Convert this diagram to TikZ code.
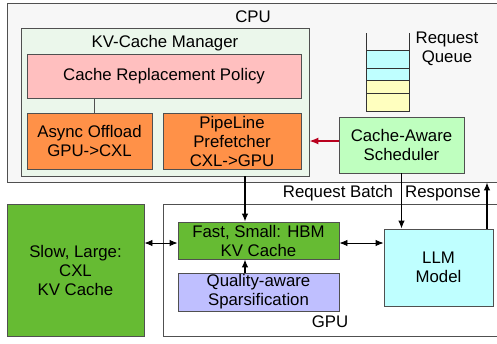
\documentclass[tikz,border=0pt]{standalone}
\usepackage{fontspec}
\setmainfont{Liberation Sans}
\usetikzlibrary{arrows.meta,calc}
\definecolor{cpufill}{RGB}{247,247,247}
\definecolor{kvfill}{RGB}{235,247,235}
\definecolor{pinkfill}{RGB}{255,191,191}
\definecolor{orangefill}{RGB}{255,145,72}
\definecolor{schedfill}{RGB}{191,255,191}
\definecolor{cyanfill}{RGB}{191,255,255}
\definecolor{yellowfill}{RGB}{255,255,191}
\definecolor{greenfill}{RGB}{102,187,51}
\definecolor{lavfill}{RGB}{191,191,255}
\definecolor{redarr}{RGB}{185,0,30}
\definecolor{edge}{RGB}{80,80,80}
\begin{document}
\begin{tikzpicture}[x=1pt,y=-1pt,
  every node/.style={font=\fontsize{16.8}{19}\selectfont},
  box/.style={draw=edge,line width=0.9pt,rectangle,inner sep=0pt,align=center},
  lbl/.style={inner sep=0pt,align=center},
  arr/.style={line width=1.1pt,-{Latex[length=8pt,width=6.5pt]}},
  darr/.style={line width=0.9pt,{Latex[length=8pt,width=6.5pt]}-{Latex[length=8pt,width=6.5pt]}},
  redarrow/.style={draw=redarr,line width=1.3pt,-{Latex[length=9pt,width=7pt]}}]
\useasboundingbox (0,0) rectangle (497,343);
\clip (0,0) rectangle (497,343);
% CPU
\node[box,fill=cpufill,minimum width=493pt,minimum height=179pt] (cpu) at (253.5,92.5) {};
\node[lbl] (cpulbl) at (253,17) {CPU};
% KV-Cache Manager
\node[box,fill=kvfill,minimum width=288pt,minimum height=148pt] (kvm) at (165,102) {};
\node[lbl] (kvmlbl) at (165,43) {KV-Cache Manager};
\node[box,fill=pinkfill,minimum width=274pt,minimum height=44pt] (policy) at (164,76) {Cache Replacement Policy};
\node[box,fill=orangefill,minimum width=125pt,minimum height=56pt] (async) at (89.5,141) {Async Offload\\GPU->CXL};
\node[box,fill=orangefill,minimum width=138pt,minimum height=56pt] (prefetch) at (232,141) {PipeLine\\Prefetcher\\CXL->GPU};
\draw[edge,line width=0.9pt] ([xshift=4.5pt]async.north) -- ([xshift=4.5pt]async.north |- policy.south);
% Request queue
\fill[cyanfill] (366,50) rectangle (409,80);
\fill[yellowfill] (366,80) rectangle (409,111);
\draw[black!80,line width=0.9pt] (366,33) -- (366,111) -- (409,111) -- (409,33);
\draw[black!80,line width=0.9pt] (366,50) -- (409,50) (366,68) -- (409,68) (366,80) -- (409,80) (366,93) -- (409,93);
\node[lbl] (queuelbl) at (447,49) {Request\\Queue};
% Scheduler
\node[box,fill=schedfill,minimum width=125pt,minimum height=56pt] (sched) at (401.5,145) {Cache-Aware\\Scheduler};
\draw[redarrow] ([yshift=4pt]sched.west) -- ([yshift=4pt]sched.west -| kvm.east);
% GPU
\node[box,fill=white,minimum width=337pt,minimum height=132pt] (gpu) at (331.5,270) {};
\node[lbl] (gpulbl) at (330,322) {GPU};
\node[box,fill=greenfill,minimum width=137pt,minimum height=132pt] (cxl) at (75.5,270) {Slow, Large:\\CXL\\KV Cache};
\node[box,fill=greenfill,minimum width=161pt,minimum height=37pt] (hbm) at (258.5,240.5) {Fast, Small: HBM\\KV Cache};
\node[box,fill=lavfill,minimum width=161pt,minimum height=38pt] (qual) at (258.5,292) {Quality-aware\\Sparsification};
\node[box,fill=cyanfill,minimum width=109pt,minimum height=77pt] (llm) at (438.5,267.5) {LLM\\Model};
% labels between
\node[lbl] (batchlbl) at (338,193) {Request Batch};
\node[lbl] (resplbl) at (443,193) {Response};
% connectors
\draw[arr] ([xshift=-13.5pt]hbm.north |- kvm.south) -- ([xshift=-13.5pt]hbm.north);
\draw[arr] ([xshift=-13.5pt]qual.north) -- ([xshift=-13.5pt]hbm.south);
\draw[arr] (sched.south) -- (sched.south |- llm.north);
\draw[arr] ([xshift=48.5pt]llm.north) -- ([xshift=48.5pt]llm.north |- cpu.south);
\coordinate (hl) at ([yshift=-2.5pt]hbm.west);
\coordinate (hr) at ([yshift=-2.5pt]hbm.east);
\draw[darr] (cxl.east |- hl) -- (hl);
\draw[darr] (hr) -- (llm.west |- hr);
\end{tikzpicture}
\end{document}
